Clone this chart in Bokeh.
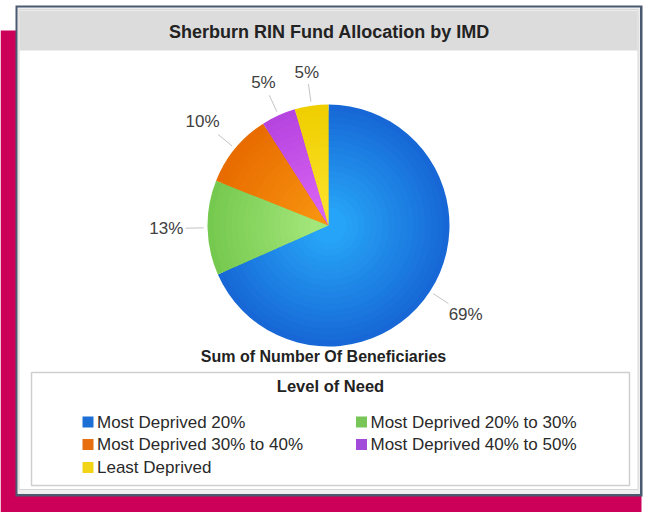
import numpy as np
from bokeh.plotting import figure
from bokeh.models import Range1d
from bokeh.core.properties import value
from bokeh.embed import file_html
from bokeh.resources import INLINE

# ---- data ----
title = "Sherburn RIN Fund Allocation by IMD"
subtitle = "Sum of Number Of Beneficiaries"
legend_title = "Level of Need"
categories = ["Most Deprived 20%", "Most Deprived 20% to 30%",
              "Most Deprived 30% to 40%", "Most Deprived 40% to 50%",
              "Least Deprived"]
shares = [68.5, 12.7, 9.9, 4.6, 4.5]
labels = ["69%", "13%", "10%", "5%", "5%"]
outer_colors = ["#1768d6", "#76c94f", "#e86c00", "#b644df", "#efcf00"]
inner_colors = ["#26a4f7", "#a3e67a", "#f7920f", "#d963f3", "#fbe12a"]
legend_colors = ["#1d6fd5", "#77c657", "#e86f0f", "#a24ad9", "#f2d416"]

FONT = value("Liberation Sans")
W, H = 646, 512


def Y(y):
    return H - y


def hex2rgb(h):
    h = h.lstrip("#")
    return np.array([int(h[i:i + 2], 16) for i in (0, 2, 4)], dtype=float)


def lerp(c1, c2, t):
    c = hex2rgb(c1) * (1 - t) + hex2rgb(c2) * t
    return "#%02x%02x%02x" % tuple(int(round(v)) for v in c)


p = figure(width=W, height=H, x_range=Range1d(0, W), y_range=Range1d(0, H),
           output_backend="svg", toolbar_location=None, min_border=0)
p.axis.visible = False
p.grid.visible = False
p.outline_line_color = None
p.background_fill_color = "white"
p.border_fill_color = "white"

# decorative background and card
p.quad(left=0, right=641, top=Y(30), bottom=Y(512), fill_color="#cc0058", line_color=None)
p.quad(left=15, right=642, top=Y(5), bottom=Y(496), fill_color="#4b5a70", line_color=None)
p.quad(left=17, right=639.5, top=Y(7), bottom=Y(493.5), fill_color="#eeeeee", line_color=None)
p.quad(left=18.5, right=637.5, top=Y(9), bottom=Y(489), fill_color="white",
       line_color="#d6d6d6", line_width=1)
p.quad(left=19, right=637, top=Y(10), bottom=Y(50), fill_color="#dcdcdc", line_color=None)
p.quad(left=31, right=629, top=Y(372), bottom=Y(485), fill_color="white",
       line_color="#cfcfcf", line_width=1.5)

# pie
cx, cy, R = 328, Y(225), 121
vals = np.array(shares, dtype=float)
frac = vals / vals.sum()
cum = np.concatenate([[0], np.cumsum(frac)])
start = np.pi / 2 - cum[:-1] * 2 * np.pi
end = np.pi / 2 - cum[1:] * 2 * np.pi
N = 18
for k in range(N):
    t = k / (N - 1)
    r = R * (1 - 0.85 * t)
    p.wedge(x=cx, y=cy, radius=r, start_angle=list(start), end_angle=list(end),
            direction="clock",
            fill_color=[lerp(o, i, t) for o, i in zip(outer_colors, inner_colors)],
            line_color=None)

# labels with leader lines
mid = (cum[:-1] + cum[1:]) / 2 * 2 * np.pi  # clockwise from top
dx = np.sin(mid)
dy = np.cos(mid)
char_w = {"%": 0.889}
tw = [sum(char_w.get(c, 0.556) for c in s) * 17 for s in labels]
r_txt = [145 + 0.5 * w * abs(a) + 8 * abs(b) for w, a, b in zip(tw, dx, dy)]
p.segment(x0=cx + 125 * dx, y0=cy + 125 * dy, x1=cx + 143 * dx, y1=cy + 143 * dy,
          line_color="#c4c4c4", line_width=1)
p.text(x=list(cx + np.array(r_txt) * dx), y=list(cy + np.array(r_txt) * dy), text=labels,
       text_font=FONT, text_font_size="17px", text_align="center",
       text_baseline="middle", text_color="#404040")

# titles
p.text(x=[329], y=[Y(31.5)], text=[title], text_font=FONT, text_font_size="18px",
       text_font_style="bold", text_align="center", text_baseline="middle", text_color="#222222")
p.text(x=[323], y=[Y(356)], text=[subtitle], text_font=FONT, text_font_size="16px",
       text_font_style="bold", text_align="center", text_baseline="middle", text_color="#222222")
p.text(x=[330], y=[Y(385)], text=[legend_title], text_font=FONT, text_font_size="16.5px",
       text_font_style="bold", text_align="center", text_baseline="middle", text_color="#222222")

# legend
col_x = [87.5, 361]
row_y = [421.5, 444, 467]
lx, ly = [], []
for i in range(len(categories)):
    lx.append(col_x[i % 2])
    ly.append(Y(row_y[i // 2]))
p.rect(x=lx, y=ly, width=11, height=11, fill_color=legend_colors, line_color=None)
p.text(x=[x + 9 for x in lx], y=ly, text=categories, text_font=FONT, text_font_size="17px",
       text_align="left", text_baseline="middle", text_color="#2a2a2a")

open("out.html", "w").write(file_html(p, INLINE))
